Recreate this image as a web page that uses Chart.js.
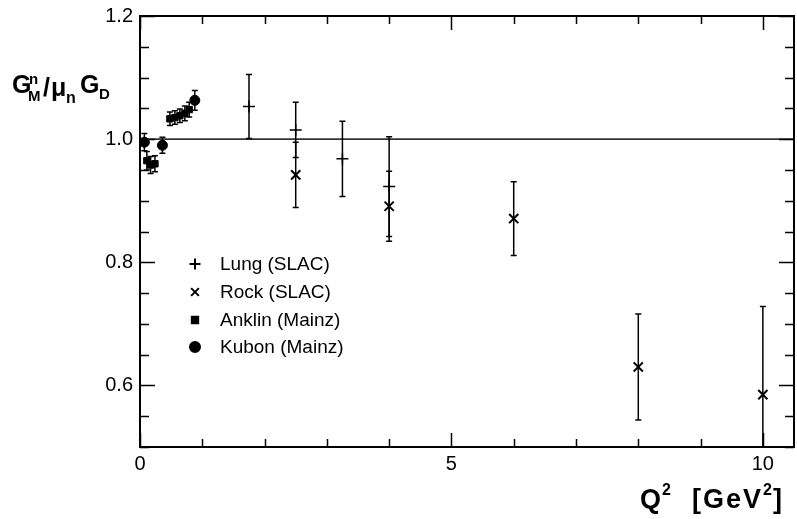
<!DOCTYPE html>
<html>
<head>
<meta charset="utf-8">
<script src="https://cdn.jsdelivr.net/npm/chart.js@4.4.0/dist/chart.umd.min.js"></script>
<style>
  html, body { margin: 0; padding: 0; background: #fff; overflow: hidden; }
  #wrap { width: 797px; height: 519px; position: relative; }
</style>
</head>
<body>
<div id="wrap"><canvas id="ffChart"></canvas></div>
<script>
// Neutron magnetic form factor ratio G_M^n / (mu_n G_D) vs Q^2
const lungQ2 = [1.75, 2.5, 3.25, 4.0];
const lungRatio = [1.053, 1.015, 0.968, 0.923];
const lungErr = [0.052, 0.045, 0.061, 0.081];

const rockQ2 = [2.5, 4.0, 6.0, 8.0, 10.0];
const rockRatio = [0.942, 0.891, 0.871, 0.630, 0.585];
const rockErr = [0.053, 0.057, 0.060, 0.086, 0.143];

const anklinQ2 = [0.11, 0.17, 0.24, 0.48, 0.56, 0.64, 0.72, 0.79];
const anklinRatio = [0.965, 0.958, 0.960, 1.033, 1.035, 1.038, 1.042, 1.048];
const anklinErr = [0.015, 0.014, 0.013, 0.011, 0.011, 0.011, 0.012, 0.012];

const kubonQ2 = [0.07, 0.36, 0.88];
const kubonRatio = [0.995, 0.990, 1.063];
const kubonErr = [0.014, 0.013, 0.016];

const xMajorTicks = [0, 5, 10];
const yMajorTicks = [0.6, 0.8, 1.0, 1.2];
const xMinorStep = 1;
const yMinorStep = 0.05;

const FONT = '"Liberation Sans", Arial, Helvetica, sans-serif';

function toPoints(xs, ys) {
    return xs.map(function(x, i) { return { x: x, y: ys[i] }; });
}

const datasets = [
    { label: 'Lung (SLAC)', data: toPoints(lungQ2, lungRatio), errors: lungErr,
      pointStyle: 'cross', pointRadius: 6, borderWidth: 1.5 },
    { label: 'Rock (SLAC)', data: toPoints(rockQ2, rockRatio), errors: rockErr,
      pointStyle: 'crossRot', pointRadius: 6.5, borderWidth: 2 },
    { label: 'Anklin (Mainz)', data: toPoints(anklinQ2, anklinRatio), errors: anklinErr,
      pointStyle: 'rect', pointRadius: 4.5, borderWidth: 1 },
    { label: 'Kubon (Mainz)', data: toPoints(kubonQ2, kubonRatio), errors: kubonErr,
      pointStyle: 'circle', pointRadius: 5, borderWidth: 1 }
];
datasets.forEach(function(ds) {
    ds.borderColor = '#000';
    ds.backgroundColor = '#000';
    ds.pointHoverRadius = ds.pointRadius;
    ds.showLine = false;
});

// Frame, inward ticks, reference line at 1 and error bars
const framePlugin = {
    id: 'frame',
    beforeDatasetsDraw: function(chart) {
        const ctx = chart.ctx;
        const a = chart.chartArea;
        const xs = chart.scales.x;
        const ys = chart.scales.y;

        ctx.save();
        // reference line
        const y1 = ys.getPixelForValue(1.0);
        ctx.strokeStyle = '#333';
        ctx.lineWidth = 1.6;
        ctx.beginPath();
        ctx.moveTo(a.left, y1);
        ctx.lineTo(a.right, y1);
        ctx.stroke();

        // error bars
        ctx.beginPath();
        ctx.rect(a.left, a.top, a.right - a.left, a.bottom - a.top);
        ctx.clip();
        ctx.strokeStyle = '#000';
        ctx.lineWidth = 1.5;
        chart.data.datasets.forEach(function(ds) {
            ds.data.forEach(function(p, i) {
                const px = xs.getPixelForValue(p.x);
                const top = ys.getPixelForValue(p.y + ds.errors[i]);
                const bot = ys.getPixelForValue(p.y - ds.errors[i]);
                ctx.beginPath();
                ctx.moveTo(px, top);
                ctx.lineTo(px, bot);
                ctx.moveTo(px - 3, top);
                ctx.lineTo(px + 3, top);
                ctx.moveTo(px - 3, bot);
                ctx.lineTo(px + 3, bot);
                ctx.stroke();
            });
        });
        ctx.restore();
    },
    afterDraw: function(chart) {
        const ctx = chart.ctx;
        const a = chart.chartArea;
        const xs = chart.scales.x;
        const ys = chart.scales.y;
        ctx.save();
        ctx.strokeStyle = '#000';

        // minor and major ticks on all four sides, pointing inward
        ctx.lineWidth = 1.5;
        ctx.beginPath();
        for (let v = xs.min; v <= xs.max + 1e-9; v += xMinorStep) {
            const px = Math.round(xs.getPixelForValue(v)) + 0.5;
            const len = xMajorTicks.indexOf(Math.round(v * 100) / 100) >= 0 ? 14 : 8;
            ctx.moveTo(px, a.bottom);
            ctx.lineTo(px, a.bottom - len);
            ctx.moveTo(px, a.top);
            ctx.lineTo(px, a.top + len);
        }
        for (let v = ys.min; v <= ys.max + 1e-9; v += yMinorStep) {
            const r = Math.round(v * 100) / 100;
            const py = Math.round(ys.getPixelForValue(r)) + 0.5;
            const len = yMajorTicks.indexOf(r) >= 0 ? 15 : 9;
            ctx.moveTo(a.left, py);
            ctx.lineTo(a.left + len, py);
            ctx.moveTo(a.right, py);
            ctx.lineTo(a.right - len, py);
        }
        ctx.stroke();

        // frame
        ctx.lineWidth = 2;
        ctx.strokeRect(a.left, a.top, a.right - a.left, a.bottom - a.top);

        // legend inside the plot
        ctx.fillStyle = '#000';
        ctx.font = '19px ' + FONT;
        ctx.textBaseline = 'middle';
        const rows = [264, 292, 320, 347];
        chart.data.datasets.forEach(function(ds, i) {
            Chart.helpers.drawPoint(ctx, {
                pointStyle: ds.pointStyle,
                radius: ds.pointStyle === 'rect' ? 4.5 : (ds.pointStyle === 'circle' ? 5 : 5.5),
                borderWidth: 1.3,
                rotation: 0
            }, 195, rows[i]);
            ctx.fillText(ds.label, 220, rows[i] + 1);
        });

        // y-axis title: G^n_M / mu_n G_D
        ctx.textBaseline = 'alphabetic';
        ctx.font = 'bold 25px ' + FONT;
        ctx.fillText('G', 12, 93);
        ctx.font = 'bold 15px ' + FONT;
        ctx.fillText('n', 29, 84);
        ctx.fillText('M', 28, 101);
        ctx.font = 'bold 25px ' + FONT;
        ctx.fillText('/', 43, 96);
        ctx.fillText('\u03bc', 51, 96);
        ctx.font = 'bold 16px ' + FONT;
        ctx.fillText('n', 66, 103);
        ctx.font = 'bold 25px ' + FONT;
        ctx.fillText('G', 80, 93);
        ctx.font = 'bold 15px ' + FONT;
        ctx.fillText('D', 99, 99);

        // x-axis title: Q^2 [GeV^2]
        ctx.font = 'bold 27px ' + FONT;
        ctx.fillText('Q', 640, 508);
        let x = 640 + ctx.measureText('Q').width + 1;
        ctx.font = 'bold 16px ' + FONT;
        ctx.fillText('2', x, 495);
        ctx.font = 'bold 27px ' + FONT;
        ctx.letterSpacing = '2px';
        x = 692;
        ctx.fillText('[GeV', x, 508);
        x += ctx.measureText('[GeV').width;
        ctx.letterSpacing = '0px';
        ctx.font = 'bold 16px ' + FONT;
        ctx.fillText('2', x, 495);
        x += ctx.measureText('2').width + 1;
        ctx.font = 'bold 27px ' + FONT;
        ctx.fillText(']', x, 508);
        ctx.restore();
    }
};

new Chart(document.getElementById('ffChart').getContext('2d'), {
    type: 'scatter',
    data: { datasets: datasets },
    options: {
        responsive: true,
        maintainAspectRatio: false,
        animation: false,
        layout: {
            autoPadding: false,
            padding: { left: 0, top: 16, right: 3, bottom: 0 }
        },
        plugins: {
            legend: { display: false },
            tooltip: { enabled: false }
        },
        scales: {
            x: {
                type: 'linear',
                min: 0,
                max: 10.5,
                afterBuildTicks: function(scale) {
                    scale.ticks = xMajorTicks.map(function(v) { return { value: v }; });
                },
                afterFit: function(scale) {
                    scale.height = 72;
                    scale.paddingLeft = 0;
                    scale.paddingRight = 0;
                },
                grid: { display: false, drawTicks: false },
                border: { display: false },
                ticks: {
                    color: '#000',
                    padding: 5,
                    maxRotation: 0,
                    font: { family: FONT, size: 20 },
                    callback: function(v) { return String(v); }
                }
            },
            y: {
                type: 'linear',
                min: 0.5,
                max: 1.2,
                afterBuildTicks: function(scale) {
                    scale.ticks = yMajorTicks.map(function(v) { return { value: v }; });
                },
                afterFit: function(scale) {
                    scale.width = 140;
                    scale.paddingTop = 0;
                    scale.paddingBottom = 0;
                },
                grid: { display: false, drawTicks: false },
                border: { display: false },
                ticks: {
                    color: '#000',
                    padding: 7,
                    font: { family: FONT, size: 20 },
                    callback: function(v) { return v.toFixed(1); }
                }
            }
        }
    },
    plugins: [framePlugin]
});
</script>
</body>
</html>
